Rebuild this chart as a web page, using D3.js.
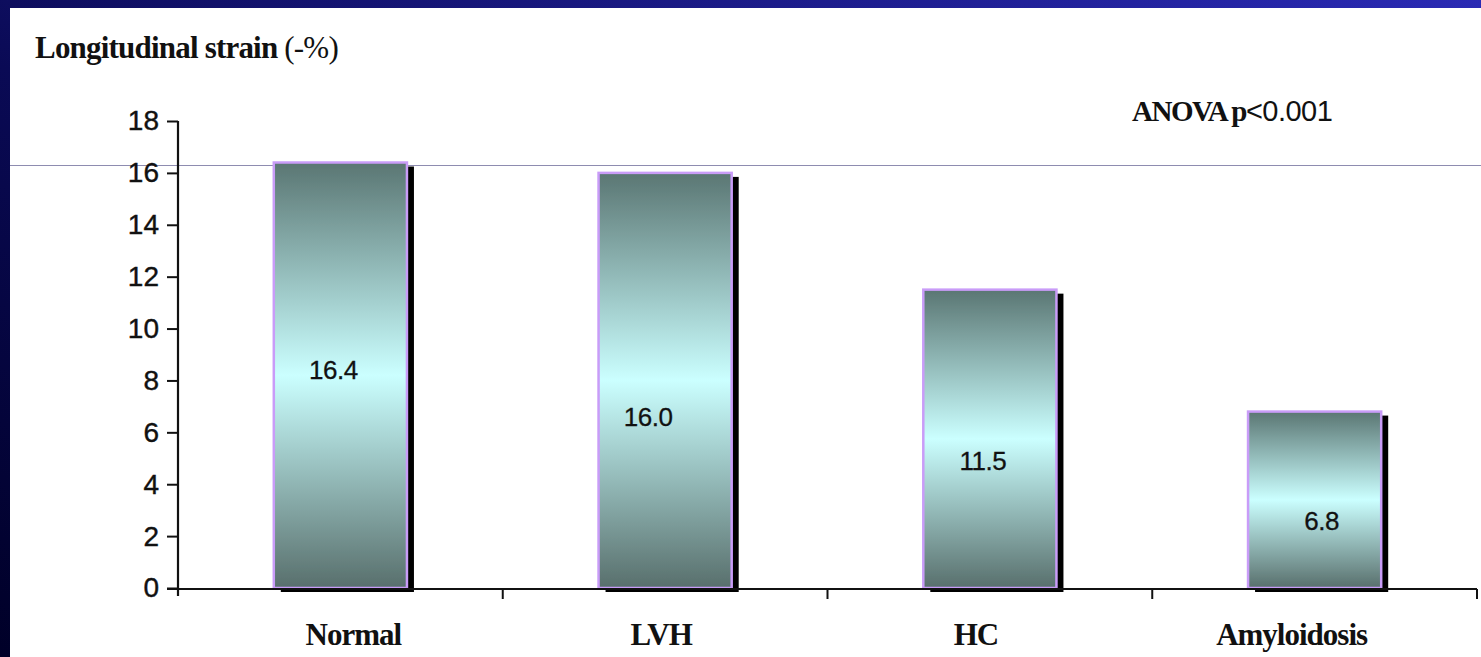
<!DOCTYPE html>
<html>
<head>
<meta charset="utf-8">
<script src="https://cdn.jsdelivr.net/npm/d3@7"></script>
<style>
  html, body { margin: 0; padding: 0; background: #000030; }
  svg { display: block; }
</style>
</head>
<body>
<script>
// Mean longitudinal strain (-%) by group
const categories = ["Normal", "LVH", "HC", "Amyloidosis"];
const strainValues = [16.4, 16.0, 11.5, 6.8];
const valueLabels = ["16.4", "16.0", "11.5", "6.8"];
// level (in strain units) at which each value label sits inside its bar
const labelLevels = [8.4, 6.6, 4.9, 2.6];
const labelShift = [-7, -17, -7, 7];
// horizontal nudge of each category name from its band centre
const nameShift = [13, -4, -14, -23];
const yTicks = [0, 2, 4, 6, 8, 10, 12, 14, 16, 18];

const W = 1481, H = 657;
const svg = d3.select("body").append("svg").attr("width", W).attr("height", H);
const defs = svg.append("defs");

// slide background
const bg = defs.append("linearGradient").attr("id", "slideBg")
  .attr("x1", "0").attr("y1", "1").attr("x2", "1").attr("y2", "0");
bg.append("stop").attr("offset", "0%").attr("stop-color", "#000028");
bg.append("stop").attr("offset", "45%").attr("stop-color", "#0a0a55");
bg.append("stop").attr("offset", "100%").attr("stop-color", "#2a2ab4");
svg.append("rect").attr("width", W).attr("height", H).attr("fill", "url(#slideBg)");

// white chart panel
svg.append("rect").attr("x", 10).attr("y", 8).attr("width", W - 10).attr("height", H - 8)
  .attr("fill", "#ffffff");

// bar fill: dark slate at the edges, pale cyan in the middle
const bf = defs.append("linearGradient").attr("id", "barFill")
  .attr("x1", "0").attr("y1", "0").attr("x2", "0").attr("y2", "1");
bf.append("stop").attr("offset", "0%").attr("stop-color", "#5a7673");
bf.append("stop").attr("offset", "50%").attr("stop-color", "#cbffff");
bf.append("stop").attr("offset", "100%").attr("stop-color", "#586f6c");

const glow = defs.append("filter").attr("id", "soft")
  .attr("x", "-5%").attr("y", "-5%").attr("width", "110%").attr("height", "110%");
glow.append("feGaussianBlur").attr("stdDeviation", 0.6);

const x = d3.scaleBand().domain(categories).range([178, 1477]).padding(0);
const y = d3.scaleLinear().domain([0, 18]).range([588, 121]);
const barW = x.bandwidth() * 0.41;
const barX = d => x(d) + (x.bandwidth() - barW) / 2;

// stray horizontal rule across the slide
svg.append("line").attr("x1", 10).attr("x2", W).attr("y1", 165.5).attr("y2", 165.5)
  .attr("stroke", "#8e8cb0").attr("stroke-width", 1.2);

const data = categories.map((c, i) => ({
  c, v: strainValues[i], label: valueLabels[i], level: labelLevels[i], dx: labelShift[i]
}));

// drop shadows
svg.append("g").selectAll("rect").data(data).join("rect")
  .attr("x", d => barX(d.c) + 7)
  .attr("y", d => y(d.v) + 4)
  .attr("width", barW)
  .attr("height", d => y(0) - y(d.v))
  .attr("fill", "#000000");

// bars
svg.append("g").selectAll("rect").data(data).join("rect")
  .attr("x", d => barX(d.c))
  .attr("y", d => y(d.v))
  .attr("width", barW)
  .attr("height", d => y(0) - y(d.v))
  .attr("fill", "url(#barFill)")
  .attr("stroke", "#c99cf8")
  .attr("stroke-width", 2.5)
  .attr("filter", "url(#soft)");

// value labels
svg.append("g").selectAll("text").data(data).join("text")
  .attr("x", d => x(d.c) + x.bandwidth() / 2 + d.dx)
  .attr("y", d => y(d.level))
  .attr("dy", "0.36em")
  .attr("text-anchor", "middle")
  .attr("font-family", "Liberation Sans, Arial, sans-serif")
  .attr("font-size", 26)
  .attr("letter-spacing", -0.5)
  .attr("fill", "#111")
  .attr("stroke", "#111").attr("stroke-width", 0.3)
  .text(d => d.label);

// y axis
const yAxis = svg.append("g").attr("transform", "translate(178,0)")
  .call(d3.axisLeft(y).tickValues(yTicks).tickFormat(d3.format("d")).tickSize(11).tickSizeOuter(0).tickPadding(8));
yAxis.select(".domain").attr("stroke", "#111").attr("stroke-width", 2.2)
  .attr("d", `M0,${y(18)}V${y(0) + 8}`);
yAxis.selectAll(".tick line").attr("stroke", "#111").attr("stroke-width", 2);
yAxis.selectAll(".tick text")
  .attr("font-family", "Liberation Sans, Arial, sans-serif")
  .attr("font-size", 28).attr("fill", "#111")
  .attr("stroke", "#111").attr("stroke-width", 0.4);

// x axis with ticks at band boundaries
const xg = svg.append("g");
xg.append("line").attr("x1", 167).attr("x2", 1477).attr("y1", y(0) + 1).attr("y2", y(0) + 1)
  .attr("stroke", "#111").attr("stroke-width", 2.2);
const bounds = categories.slice(1).map(c => x(c)).concat([x.range()[1]]);
xg.selectAll("line.tk").data(bounds).join("line").attr("class", "tk")
  .attr("x1", d => d).attr("x2", d => d)
  .attr("y1", y(0) + 1).attr("y2", y(0) + 11)
  .attr("stroke", "#111").attr("stroke-width", 2);
xg.selectAll("text").data(categories).join("text")
  .attr("x", (d, i) => x(d) + x.bandwidth() / 2 + nameShift[i])
  .attr("y", 645)
  .attr("text-anchor", "middle")
  .attr("font-family", "Liberation Serif, Times New Roman, serif")
  .attr("font-weight", "bold")
  .attr("font-size", 31)
  .attr("letter-spacing", -1)
  .attr("fill", "#111")
  .text(d => d);

// axis title
const title = svg.append("text").attr("x", 35).attr("y", 58)
  .attr("font-size", 31).attr("fill", "#111").attr("letter-spacing", -0.8);
title.append("tspan").attr("font-family", "Liberation Serif, Times New Roman, serif")
  .attr("font-weight", "bold").text("Longitudinal strain ");
title.append("tspan").attr("font-family", "Liberation Serif, Times New Roman, serif")
  .text("(-%)");

// significance note
const note = svg.append("text").attr("x", 1132).attr("y", 121)
  .attr("font-size", 29).attr("fill", "#111");
note.append("tspan").attr("font-family", "Liberation Serif, Times New Roman, serif")
  .attr("font-weight", "bold").attr("letter-spacing", -1.5).text("ANOVA p");
note.append("tspan").attr("font-family", "Liberation Sans, Arial, sans-serif")
  .attr("letter-spacing", -0.5).text("<0.001");
</script>
</body>
</html>
